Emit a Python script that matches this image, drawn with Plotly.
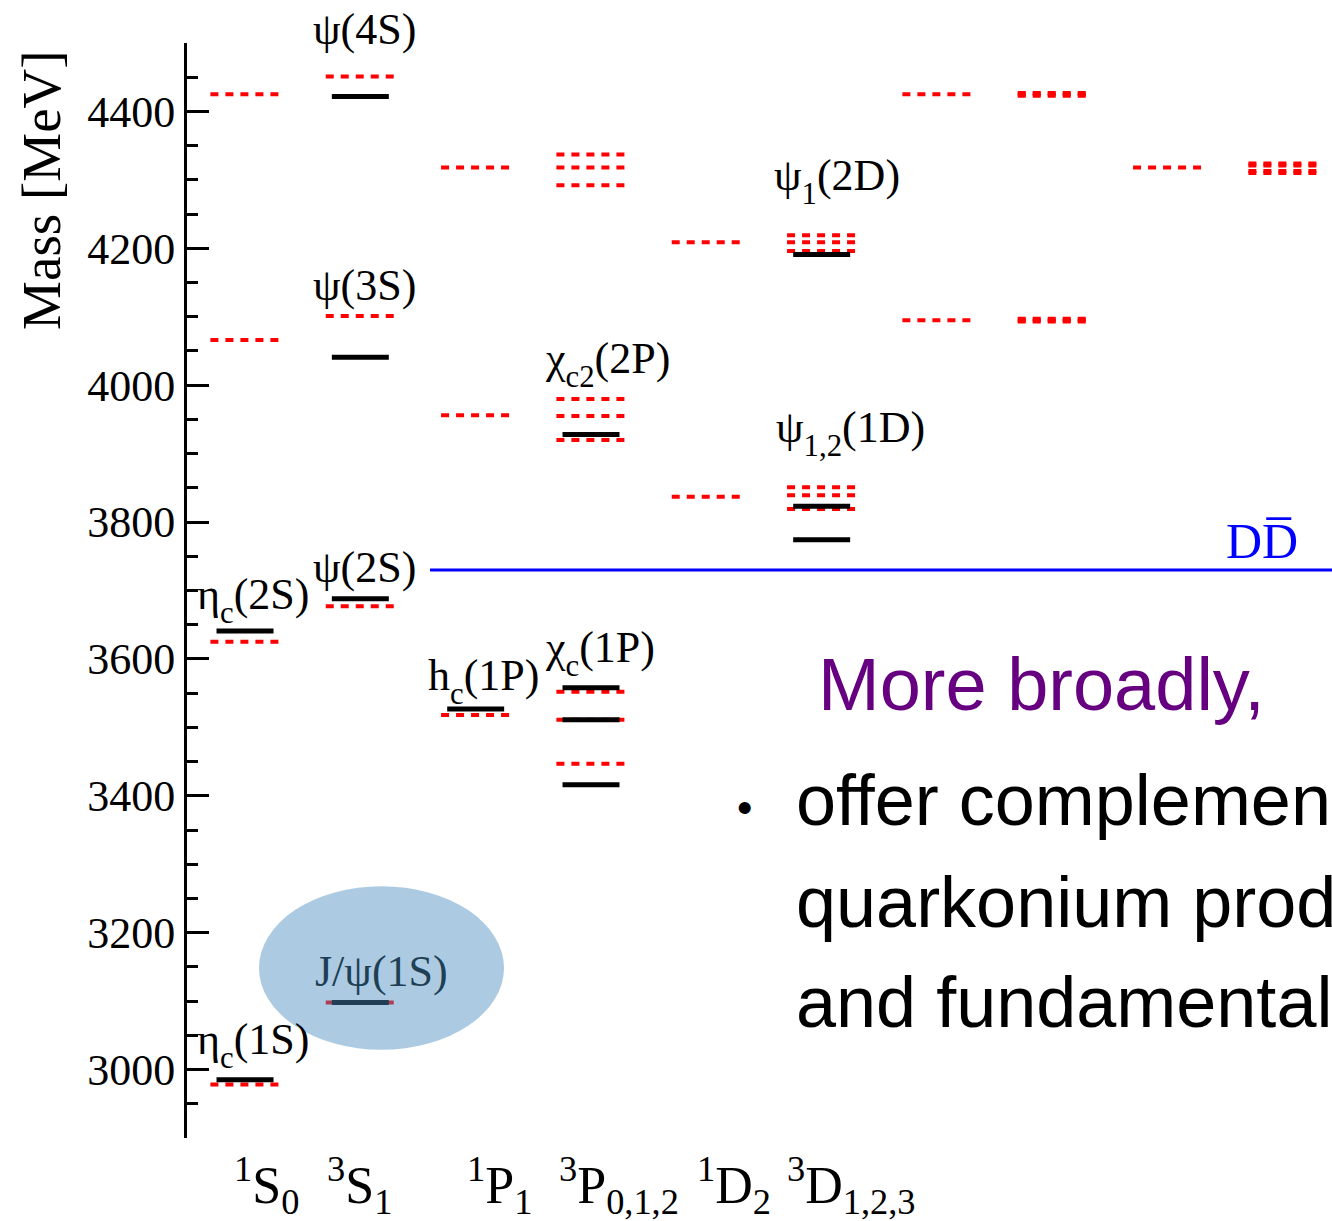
import plotly.graph_objects as go

# ---------------- data ----------------
col_labels = ["<sup>1</sup>S<sub>0</sub>", "<sup>3</sup>S<sub>1</sub>", "<sup>1</sup>P<sub>1</sub>",
              "<sup>3</sup>P<sub>0,1,2</sub>", "<sup>1</sup>D<sub>2</sub>", "<sup>3</sup>D<sub>1,2,3</sub>"]
col_label_x = [0.887, 1.694, 2.907, 3.705, 4.902, 5.682]

# experimental levels (black solid)
exp_col = [1, 1, 2, 2, 2, 2, 3, 4, 4, 4, 4, 6, 6, 6]
exp_mass = [2985, 3641, 3098, 3688, 4041, 4422, 3527, 3416, 3511, 3558, 3928, 3774, 3823, 4191]

# theory levels (red dashed)
th_col = [1, 1, 1, 1,
          2, 2, 2, 2,
          3, 3, 3,
          4, 4, 4, 4, 4, 4, 4, 4, 4,
          5, 5,
          6, 6, 6, 6, 6, 6,
          7, 7,
          8, 8, 8, 8, 8, 8,
          9,
          10, 10, 10, 10]
th_mass = [2978, 3625, 4066, 4425,
           3098, 3677, 4101, 4451,
           3518, 3956, 4318,
           3447, 3511, 3552, 3920, 3955, 3980, 4292, 4318, 4337,
           3837, 4209,
           3819, 3839, 3851, 4196, 4209, 4219,
           4095, 4425,
           4093, 4095, 4097, 4423, 4425, 4427,
           4318,
           4310, 4313, 4321, 4324]

dd_threshold = 3730

SUB = "<span style='font-size:70%;baseline-shift:-0.45em'>{}</span>"
state_text = ["ψ(4S)", "ψ(3S)", "ψ(2S)", "η" + SUB.format("c") + "(2S)", "η" + SUB.format("c") + "(1S)",
              "h" + SUB.format("c") + "(1P)", "χ" + SUB.format("c") + "(1P)", "χ" + SUB.format("c2") + "(2P)",
              "ψ" + SUB.format("1") + "(2D)", "ψ" + SUB.format("1,2") + "(1D)"]
state_x = [2.04, 2.04, 2.04, 0.566, 0.566, 3.07, 4.078, 4.139, 6.133, 6.246]
state_y = [4519, 4146, 3733, 3686, 3036, 3568, 3609, 4031, 4298, 3930]
state_anchor = ["center", "center", "center", "left", "left", "center", "center", "center", "center", "center"]

y_ticks_major = 200
y_ticks_minor = 50
y_range = [2900, 4500]
x_range = [0.497, 10.425]


def px(c):
    return (c - x_range[0]) / (x_range[1] - x_range[0])


def py(m):
    return (m - y_range[0]) / (y_range[1] - y_range[0])


# ---------------- figure ----------------
fig = go.Figure()
RED_HALF = 0.30
BLK_HALF = 0.247

for c, m in zip(th_col, th_mass):
    fig.add_trace(go.Scatter(x=[c - RED_HALF, c + RED_HALF], y=[m, m], mode="lines",
                             line=dict(color="#ff0000", width=4, dash="8px,7px"),
                             showlegend=False, hoverinfo="skip"))
for c, m in zip(exp_col, exp_mass):
    fig.add_trace(go.Scatter(x=[c - BLK_HALF, c + BLK_HALF], y=[m, m], mode="lines",
                             line=dict(color="#000000", width=5),
                             showlegend=False, hoverinfo="skip"))

fig.add_trace(go.Scatter(x=[2.604, x_range[1]], y=[dd_threshold, dd_threshold], mode="lines",
                         line=dict(color="#0000ff", width=3), showlegend=False, hoverinfo="skip"))

serif = "Liberation Serif, Times New Roman, serif"
sans = "Liberation Sans, Arial, Helvetica, sans-serif"

ann = []
for t, x, y, a in zip(state_text, state_x, state_y, state_anchor):
    ann.append(dict(text=t, x=px(x), y=py(y), xref="paper", yref="paper", xanchor=a, yanchor="middle",
                    showarrow=False, font=dict(family=serif, size=44, color="black")))

ann.append(dict(text="J/ψ(1S)", x=px(2.18), y=py(3143), xref="paper", yref="paper", showarrow=False,
                xanchor="center", yanchor="middle",
                font=dict(family=serif, size=44, color="#1f3f55")))

ann.append(dict(text="DD\u0305", x=px(9.818), y=py(3772), xref="paper", yref="paper", showarrow=False,
                xanchor="center", yanchor="middle",
                font=dict(family=serif, size=50, color="#0000ff")))

for t, x in zip(col_labels, col_label_x):
    ann.append(dict(text=t, x=px(x), y=py(2830), xref="paper", yref="paper", xanchor="left", yanchor="middle",
                    showarrow=False, font=dict(family=serif, size=52, color="black")))

ann.append(dict(text="Mass [MeV]", x=-0.1265, y=0.866, xref="paper", yref="paper",
                xanchor="center", yanchor="middle",
                textangle=-90, showarrow=False, font=dict(family=serif, size=55, color="black")))

ann.append(dict(text="More broadly,", x=0.549, y=0.4146, xref="paper", yref="paper",
                xanchor="left", yanchor="middle", showarrow=False,
                font=dict(family=sans, size=74, color="#660080")))
ann.append(dict(text="•", x=0.4786, y=0.302, xref="paper", yref="paper",
                xanchor="left", yanchor="middle", showarrow=False,
                font=dict(family=sans, size=44, color="black")))
for t, y in zip(["offer complemen", "quarkonium prod", "and fundamental"], [0.3087, 0.2155, 0.1242]):
    ann.append(dict(text=t, x=0.5305, y=y, xref="paper", yref="paper",
                    xanchor="left", yanchor="middle", showarrow=False,
                    font=dict(family=sans, size=72, color="black")))

fig.update_layout(
    width=1332, height=1221,
    margin=dict(l=187, r=0, t=43, b=83),
    paper_bgcolor="white", plot_bgcolor="white",
    annotations=ann,
    shapes=[dict(type="circle", xref="x", yref="y", x0=1.121, x1=3.246, y0=3029, y1=3268,
                 fillcolor="rgba(70,140,190,0.45)", line=dict(width=0), layer="above")],
    xaxis=dict(range=x_range, visible=False, showgrid=False, zeroline=False),
    yaxis=dict(range=y_range, tickmode="linear", tick0=3000, dtick=y_ticks_major,
               ticks="inside", ticklen=22, tickwidth=3, tickcolor="black",
               showline=True, linewidth=3, linecolor="black",
               showgrid=False, zeroline=False,
               tickfont=dict(family=serif, size=44, color="black"),
               minor=dict(dtick=y_ticks_minor, tick0=2900, ticks="inside", ticklen=11,
                          tickwidth=3, tickcolor="black", showgrid=False)),
)

fig.write_html("out.html")
